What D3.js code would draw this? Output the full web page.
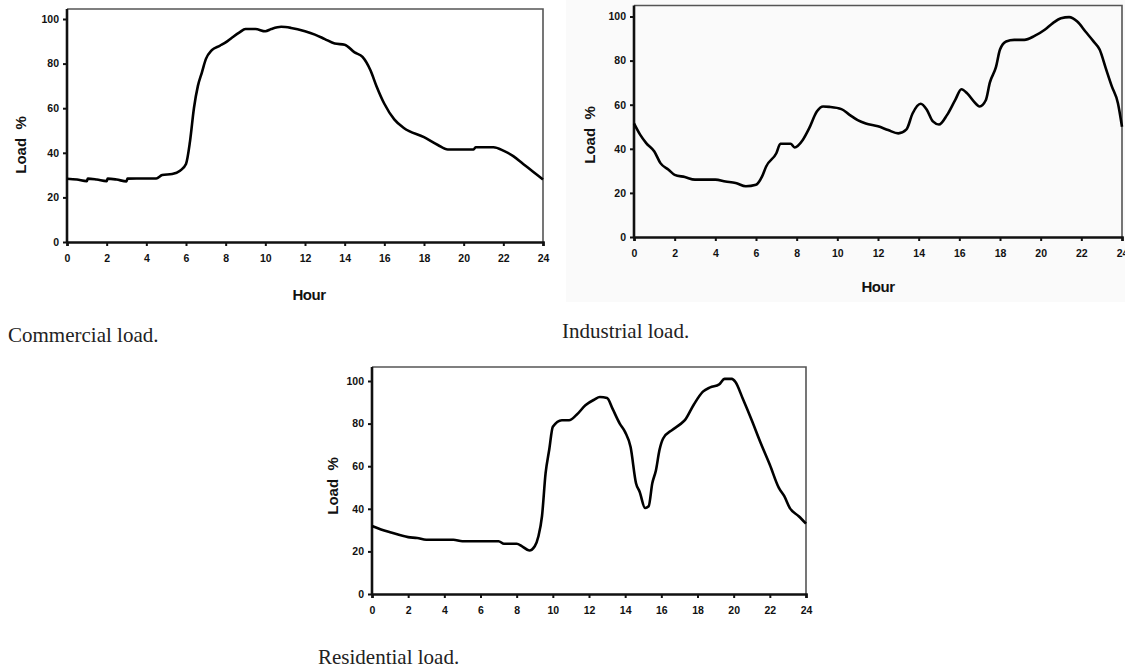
<!DOCTYPE html>
<html lang="en">
<head>
<meta charset="utf-8">
<title>Load curves</title>
<script src="https://d3js.org/d3.v7.min.js"></script>
<style>
  body { margin: 0; background: #fff; }
  .tick text { font-family: "Liberation Sans", Arial, sans-serif; font-weight: bold; font-size: 10.5px; fill: #111; }
  .axtitle { font-family: "Liberation Sans Narrow", "Liberation Sans", Arial, sans-serif; font-weight: bold; font-size: 15px; fill: #111; white-space: pre; }
  .caption { font-family: "Liberation Serif", "Times New Roman", serif; font-size: 21px; fill: #222; }
</style>
</head>
<body>
<script>
// hours and load %
var commercialHours = [0, 0.5, 1, 1.05, 1.5, 2, 2.05, 2.5, 3, 3.05, 3.5, 4, 4.5, 4.8, 5.3, 5.7, 6.0, 6.2, 6.4, 6.6, 6.8, 7.0, 7.3, 7.7, 8.0, 8.3, 8.7, 9.0, 9.5, 10.0, 10.3, 10.8, 11.3, 12.0, 12.5, 13.0, 13.5, 14.0, 14.5, 14.9, 15.3, 15.6, 16.0, 16.5, 17.0, 18.0, 18.7, 19.2, 20.0, 20.5, 20.6, 21.5, 22.0, 22.5, 23.0, 23.5, 24];
var commercialLoad  = [28.4, 28, 27.3, 28.4, 28, 27.3, 28.4, 28, 27.2, 28.4, 28.5, 28.5, 28.5, 30, 30.5, 32, 35, 45, 60, 70, 76, 82, 86, 88, 89.5, 91.5, 94, 95.5, 95.5, 94.5, 95.5, 96.5, 96, 94.5, 93, 91, 89, 88.5, 85, 83, 77, 70, 62, 55, 51, 47, 43.5, 41.5, 41.5, 41.5, 42.5, 42.5, 41, 38.5, 35, 31.5, 28];

var industrialHours = [0, 0.3, 0.6, 1.0, 1.3, 1.7, 2.0, 2.5, 3, 4, 4.5, 5, 5.5, 6.0, 6.3, 6.5, 7.0, 7.2, 7.7, 7.9, 8.3, 8.6, 9.0, 9.3, 9.6, 10.2, 10.6, 11.0, 11.4, 12.0, 12.5, 13.0, 13.4, 13.7, 14.1, 14.4, 14.7, 15.0, 15.4, 15.8, 16.1, 16.4, 16.7, 17.0, 17.3, 17.5, 17.8, 18.0, 18.3, 18.7, 19.2, 19.7, 20.2, 20.6, 21.0, 21.4, 21.8, 22.2, 22.6, 22.9, 23.2, 23.5, 23.8, 24];
var industrialLoad  = [51.5, 46.4, 42.6, 38.8, 33.5, 30.5, 28.2, 27.2, 26, 26, 25.2, 24.5, 23, 23.7, 27.5, 32, 38, 42.3, 42.3, 40.6, 44, 49, 57, 59.2, 59, 58, 55.4, 53, 51.5, 50.2, 48.5, 47, 48.8, 56, 60.4, 57.7, 52.4, 51, 55.4, 62.2, 67, 65, 61.6, 59.2, 62, 70, 77, 85, 88.7, 89.4, 89.4, 91.2, 94, 97, 99.2, 99.7, 97.7, 93.2, 88.7, 85, 76.6, 68.3, 60.7, 50];

var residentialHours = [0, 0.5, 1, 2, 2.5, 3, 4.5, 5, 6, 7, 7.3, 8.0, 8.3, 8.7, 9.0, 9.2, 9.4, 9.6, 9.8, 10.0, 10.5, 10.9, 11.3, 11.8, 12.3, 12.6, 13.0, 13.3, 13.7, 14.0, 14.3, 14.6, 14.8, 15.1, 15.3, 15.5, 15.7, 15.9, 16.1, 16.6, 17.0, 17.3, 17.8, 18.3, 18.7, 19.2, 19.5, 19.9, 20.1, 20.5, 21.0, 21.5, 22.0, 22.5, 22.8, 23.1, 23.6, 24];
var residentialLoad  = [31.9, 30.3, 29, 26.7, 26.3, 25.5, 25.5, 24.8, 24.8, 24.8, 23.6, 23.6, 22.4, 20.4, 22.4, 27, 36.5, 56.7, 67.7, 78.5, 81.6, 81.6, 84, 88.6, 91.3, 92.5, 92, 87, 80, 76, 69, 52, 48, 40.4, 41.2, 52, 58, 67.7, 73, 77, 79.4, 81.6, 89, 95, 97, 98.4, 101, 101, 99.5, 91.8, 81.6, 70.8, 60.7, 49.8, 45.9, 40.4, 36.5, 33];

var hourTicks = d3.range(0, 25, 2);
var loadTicks = [0, 20, 40, 60, 80, 100];

var W = 1125, H = 670;

var svg = d3.select("body").append("svg")
    .attr("width", W)
    .attr("height", H);

// faint grey of the scanned industrial figure
svg.append("rect")
    .attr("x", 566).attr("y", 0)
    .attr("width", W - 566).attr("height", 302)
    .attr("fill", "#fafafa");

var panels = [
  { hours: commercialHours, load: commercialLoad, left: 67, right: 543, bottom: 242, top100: 19, frameTop: 9,
    yTitle: [21, 145], xTitle: [309, 295], caption: "Commercial load.", capPos: [8, 342] },
  { hours: industrialHours, load: industrialLoad, left: 634, right: 1122, bottom: 237, top100: 16.5, frameTop: 5.5,
    yTitle: [590, 135], xTitle: [878, 287], caption: "Industrial load.", capPos: [562, 338] },
  { hours: residentialHours, load: residentialLoad, left: 372, right: 806, bottom: 594, top100: 381, frameTop: 367,
    yTitle: [333, 486], xTitle: null, caption: "Residential load.", capPos: [318, 664] }
];

panels.forEach(function(p) {
  var x = d3.scaleLinear().domain([0, 24]).range([p.left, p.right]);
  var y = d3.scaleLinear().domain([0, 100]).range([p.bottom, p.top100]);

  var g = svg.append("g");

  // top and right edges of the frame (lighter, halftone look)
  g.append("path")
    .attr("d", "M" + p.left + "," + p.frameTop + "H" + p.right + "V" + p.bottom)
    .attr("fill", "none")
    .attr("stroke", "#555")
    .attr("stroke-width", 1.6);

  var xAxis = g.append("g")
    .attr("transform", "translate(0," + p.bottom + ")")
    .call(d3.axisBottom(x).tickValues(hourTicks).tickSize(4).tickPadding(9).tickFormat(d3.format("d")));
  xAxis.select(".domain").attr("stroke", "#111").attr("stroke-width", 2.6);
  xAxis.selectAll(".tick line").attr("stroke", "#111").attr("stroke-width", 2);

  var yAxis = g.append("g")
    .attr("transform", "translate(" + p.left + ",0)")
    .call(d3.axisLeft(y).tickValues(loadTicks).tickSize(4).tickPadding(4).tickFormat(d3.format("d")));
  yAxis.select(".domain").remove();
  yAxis.selectAll(".tick line").attr("stroke", "#111").attr("stroke-width", 2);
  g.append("line")
    .attr("x1", p.left).attr("x2", p.left)
    .attr("y1", p.frameTop).attr("y2", p.bottom + 1)
    .attr("stroke", "#111").attr("stroke-width", 2.6);

  var line = d3.line()
    .x(function(d) { return x(d[0]); })
    .y(function(d) { return y(d[1]); })
    .curve(d3.curveMonotoneX);

  g.append("path")
    .datum(d3.zip(p.hours, p.load))
    .attr("d", line)
    .attr("fill", "none")
    .attr("stroke", "#000")
    .attr("stroke-width", 2.6)
    .attr("stroke-linejoin", "round");

  g.append("text")
    .attr("class", "axtitle")
    .attr("transform", "translate(" + p.yTitle[0] + "," + p.yTitle[1] + ") rotate(-90)")
    .attr("text-anchor", "middle")
    .attr("dy", "0.35em")
    .text("Load  %");

  if (p.xTitle) {
    g.append("text")
      .attr("class", "axtitle")
      .attr("x", p.xTitle[0]).attr("y", p.xTitle[1])
      .attr("text-anchor", "middle")
      .attr("dy", "0.35em")
      .style("letter-spacing", "-0.5px")
      .text("Hour");
  }

  svg.append("text")
    .attr("class", "caption")
    .attr("x", p.capPos[0]).attr("y", p.capPos[1])
    .text(p.caption);
});
</script>
</body>
</html>
